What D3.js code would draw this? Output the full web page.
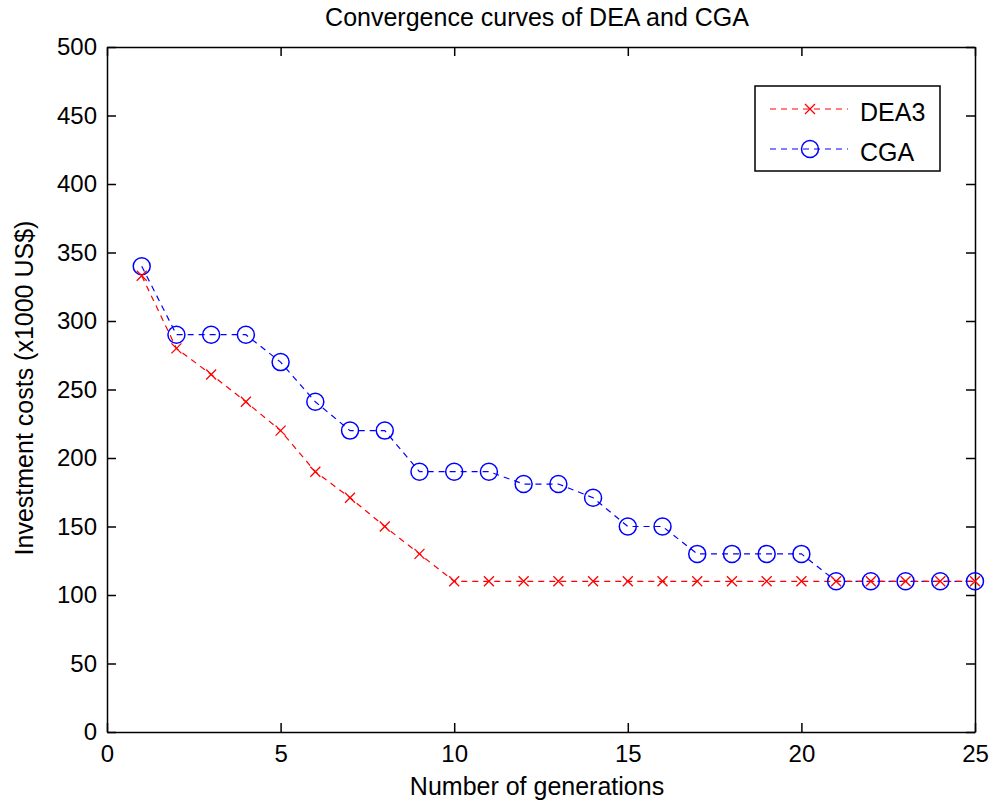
<!DOCTYPE html>
<html>
<head>
<meta charset="utf-8">
<script src="https://cdn.jsdelivr.net/npm/d3@7"></script>
<style>
  body { margin: 0; background: #fff; }
  text { font-family: "Liberation Sans", Arial, sans-serif; fill: #000; }
</style>
</head>
<body>
<div id="chart"></div>
<script>
// data
var generations = d3.range(1, 26);
var dea3 = [333, 280, 261, 241, 220, 190, 171, 150, 130, 110, 110, 110, 110, 110, 110, 110, 110, 110, 110, 110, 110, 110, 110, 110, 110];
var cga  = [340, 290, 290, 290, 270, 241, 220, 220, 190, 190, 190, 181, 181, 171, 150, 150, 130, 130, 130, 130, 110, 110, 110, 110, 110];
var xTicks = [0, 5, 10, 15, 20, 25];
var yTicks = [0, 50, 100, 150, 200, 250, 300, 350, 400, 450, 500];

var W = 995, H = 807;
var margin = {top: 47, right: 20, bottom: 75, left: 107};
var width = 975 - margin.left;
var height = 732 - margin.top;

var svg = d3.select("#chart").append("svg")
  .attr("width", W).attr("height", H);

var g = svg.append("g")
  .attr("transform", "translate(" + margin.left + "," + margin.top + ")");

var x = d3.scaleLinear().domain([0, 25]).range([0, width]);
var y = d3.scaleLinear().domain([0, 500]).range([height, 0]);

// box with inward ticks on all sides
var tick = 9;
g.append("g").attr("transform", "translate(0," + height + ")")
  .call(d3.axisBottom(x).tickValues(xTicks).tickSizeInner(-tick).tickSizeOuter(0).tickPadding(13));
g.append("g").call(d3.axisTop(x).tickValues(xTicks).tickSizeInner(-tick).tickSizeOuter(0).tickFormat(""));
g.append("g")
  .call(d3.axisLeft(y).tickValues(yTicks).tickSizeInner(-tick).tickSizeOuter(0).tickPadding(10));
g.append("g").attr("transform", "translate(" + width + ",0)")
  .call(d3.axisRight(y).tickValues(yTicks).tickSizeInner(-tick).tickSizeOuter(0).tickFormat(""));

g.selectAll(".domain").attr("stroke", "#000").attr("stroke-width", 1.5);
g.selectAll(".tick line").attr("stroke", "#000").attr("stroke-width", 1.5);
g.selectAll(".tick text").style("font-size", "24px").attr("fill", "#000");

// lines
var line = d3.line()
  .x(function (d) { return x(d[0]); })
  .y(function (d) { return y(d[1]); });

var deaPts = generations.map(function (gen, i) { return [gen, dea3[i]]; });
var cgaPts = generations.map(function (gen, i) { return [gen, cga[i]]; });

g.append("path").datum(cgaPts)
  .attr("d", line).attr("fill", "none")
  .attr("stroke", "#0000ff").attr("stroke-width", 1.2).attr("stroke-dasharray", "6,5");
g.append("path").datum(deaPts)
  .attr("d", line).attr("fill", "none")
  .attr("stroke", "#ff0000").attr("stroke-width", 1.2).attr("stroke-dasharray", "6,5");

// markers
g.selectAll(".cga-mark").data(cgaPts).enter().append("circle")
  .attr("class", "cga-mark")
  .attr("cx", function (d) { return x(d[0]); })
  .attr("cy", function (d) { return y(d[1]); })
  .attr("r", 8.5)
  .attr("fill", "none").attr("stroke", "#0000ff").attr("stroke-width", 1.5);

var cross = "M-5,-5L5,5M-5,5L5,-5";
g.selectAll(".dea-mark").data(deaPts).enter().append("path")
  .attr("class", "dea-mark")
  .attr("transform", function (d) { return "translate(" + x(d[0]) + "," + y(d[1]) + ")"; })
  .attr("d", cross)
  .attr("fill", "none").attr("stroke", "#ff0000").attr("stroke-width", 1.3);

// legend
var leg = svg.append("g").attr("transform", "translate(755,86)");
leg.append("rect").attr("width", 185).attr("height", 85)
  .attr("fill", "#fff").attr("stroke", "#000").attr("stroke-width", 1.5);
var legItems = [
  {name: "DEA3", color: "#ff0000", mark: "x", y: 23},
  {name: "CGA", color: "#0000ff", mark: "o", y: 63}
];
legItems.forEach(function (it) {
  leg.append("line").attr("x1", 15).attr("x2", 93).attr("y1", it.y).attr("y2", it.y)
    .attr("stroke", it.color).attr("stroke-width", 1.2).attr("stroke-dasharray", "6,5");
  if (it.mark === "x") {
    leg.append("path").attr("transform", "translate(55," + it.y + ")").attr("d", cross)
      .attr("fill", "none").attr("stroke", it.color).attr("stroke-width", 1.3);
  } else {
    leg.append("circle").attr("cx", 55).attr("cy", it.y).attr("r", 8.5)
      .attr("fill", "none").attr("stroke", it.color).attr("stroke-width", 1.5);
  }
  leg.append("text").attr("x", 105).attr("y", it.y + 12)
    .style("font-size", "25px").text(it.name);
});

// titles
svg.append("text").attr("x", 537).attr("y", 26).attr("text-anchor", "middle")
  .style("font-size", "25px").text("Convergence curves of DEA and CGA");
svg.append("text").attr("x", 537).attr("y", 795).attr("text-anchor", "middle")
  .style("font-size", "25px").text("Number of generations");
svg.append("text")
  .attr("transform", "translate(33,388) rotate(-90)")
  .attr("text-anchor", "middle")
  .style("font-size", "25px").text("Investment costs (x1000 US$)");
</script>
</body>
</html>
